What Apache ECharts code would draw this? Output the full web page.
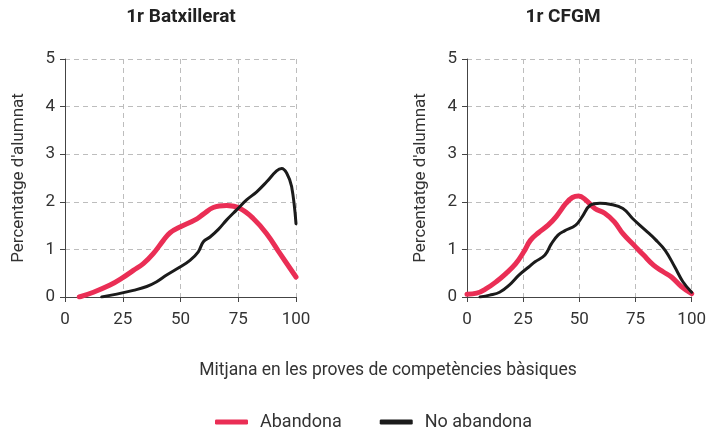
<!DOCTYPE html>
<html>
<head>
<meta charset="utf-8">
<script src="https://cdn.jsdelivr.net/npm/echarts@6/dist/echarts.min.js"></script>
<style>
  html, body { margin: 0; padding: 0; background: #fff; }
  #chart { width: 709px; height: 431px; }
</style>
</head>
<body>
<div id="chart"></div>
<script>
const panelTitles = ['1r Batxillerat', '1r CFGM']
const seriesNames = ['Abandona', 'No abandona']
const xTicks = [0, 25, 50, 75, 100]
const yTicks = [0, 1, 2, 3, 4, 5]

// 1r Batxillerat
const batAbandonaX = [6.2, 12.3, 19.5, 24.5, 29.6, 33.9, 38.2, 42.6, 45.5, 49.8, 56.3, 59.9, 64.2, 70, 75.8, 81.5, 87.3, 93.1, 100]
const batAbandonaY = [0, 0.1, 0.25, 0.39, 0.56, 0.7, 0.91, 1.19, 1.35, 1.47, 1.62, 1.74, 1.88, 1.92, 1.86, 1.65, 1.33, 0.91, 0.42]
const batNoAbandonaX = [15.9, 22.4, 29.6, 35.4, 39.7, 44, 49.8, 54.1, 57.7, 59.9, 62.8, 66.4, 70, 74.3, 78.6, 83, 87.3, 91.6, 93.8, 96, 98.1, 100]
const batNoAbandonaY = [0, 0.06, 0.14, 0.22, 0.32, 0.46, 0.63, 0.77, 0.95, 1.16, 1.26, 1.42, 1.62, 1.83, 2.04, 2.21, 2.42, 2.65, 2.7, 2.6, 2.32, 1.54]

// 1r CFGM
const cfgmAbandonaX = [0, 4.3, 8.7, 13, 17.3, 21.7, 25.3, 28.2, 31.8, 36.1, 39.7, 44.1, 46.9, 49.7, 52.6, 56.9, 61.3, 65.6, 69.4, 74.3, 78.6, 83, 87.3, 91, 95.4, 100]
const cfgmAbandonaY = [0.06, 0.08, 0.18, 0.32, 0.49, 0.7, 0.95, 1.19, 1.35, 1.51, 1.69, 1.97, 2.09, 2.12, 2.05, 1.86, 1.76, 1.58, 1.33, 1.09, 0.88, 0.67, 0.53, 0.42, 0.22, 0.07]
const cfgmNoAbandonaX = [5.8, 10.1, 14.5, 18.8, 23.1, 27.5, 30.3, 34.7, 37.6, 40.5, 43.4, 48.4, 51.3, 54.9, 59.2, 63.6, 69.4, 73.7, 79.5, 83.8, 88.2, 92.5, 96.1, 100]
const cfgmNoAbandonaY = [0, 0.04, 0.1, 0.25, 0.46, 0.63, 0.74, 0.88, 1.12, 1.3, 1.39, 1.51, 1.69, 1.93, 1.97, 1.95, 1.86, 1.65, 1.4, 1.21, 0.98, 0.63, 0.32, 0.1]

const RED = '#ea2e55'
const BLACK = '#1b1b1b'
const FONT = 'Roboto'

function pairs(xs, ys) {
  return xs.map((x, i) => [x, ys[i]])
}

function xAxisFor(idx) {
  return {
    type: 'value',
    gridIndex: idx,
    min: xTicks[0],
    max: xTicks[xTicks.length - 1],
    interval: 25,
    axisLine: { show: true, lineStyle: { color: '#444', width: 1 } },
    axisTick: { show: true, length: 5, lineStyle: { color: '#444' } },
    axisLabel: { fontFamily: FONT, fontSize: 17, color: '#333', margin: 14 },
    splitLine: { show: true, lineStyle: { color: '#bdbdbd', type: [5, 4], width: 1 } },
  }
}

function yAxisFor(idx) {
  return {
    type: 'value',
    gridIndex: idx,
    min: yTicks[0],
    max: yTicks[yTicks.length - 1],
    interval: 1,
    name: "Percentatge d'alumnat",
    nameLocation: 'middle',
    nameGap: 38,
    nameTextStyle: { fontFamily: FONT, fontSize: 17, color: '#333' },
    axisLine: { show: true, lineStyle: { color: '#444', width: 1 } },
    axisTick: { show: true, length: 5, lineStyle: { color: '#444' } },
    axisLabel: { fontFamily: FONT, fontSize: 17, color: '#333', margin: 10 },
    splitLine: { show: true, lineStyle: { color: '#bdbdbd', type: [5, 4], width: 1 } },
  }
}

function lineSeries(name, idx, data, color, width) {
  return {
    name: name,
    type: 'line',
    xAxisIndex: idx,
    yAxisIndex: idx,
    data: data,
    smooth: 0.4,
    symbol: 'none',
    lineStyle: { color: color, width: width, cap: 'round', join: 'round' },
    itemStyle: { color: color },
    z: name === seriesNames[0] ? 2 : 3,
  }
}

const chart = echarts.init(document.getElementById('chart'), null, { renderer: 'canvas' })

const option = {
  animation: false,
  backgroundColor: '#fff',
  title: [
    { text: panelTitles[0], left: 176, top: 3, textAlign: 'center',
      textStyle: { fontFamily: FONT, fontSize: 19, fontWeight: 'bold', color: '#222' } },
    { text: panelTitles[1], left: 558, top: 3, textAlign: 'center',
      textStyle: { fontFamily: FONT, fontSize: 19, fontWeight: 'bold', color: '#222' } },
    { text: 'Mitjana en les proves de competències bàsiques', left: 383, top: 357, textAlign: 'center',
      textStyle: { fontFamily: FONT, fontSize: 17.5, fontWeight: 'normal', color: '#333' } },
  ],
  legend: {
    left: 215,
    top: 413,
    padding: 0,
    itemWidth: 33,
    itemHeight: 5,
    itemGap: 38,
    icon: 'roundRect',
    textStyle: { fontFamily: FONT, fontSize: 18, color: '#333', padding: [0, 0, 0, 7] },
    data: [
      { name: seriesNames[0], itemStyle: { color: RED } },
      { name: seriesNames[1], itemStyle: { color: BLACK } },
    ],
  },
  grid: [
    { left: 65, right: 413, top: 59, bottom: 134 },
    { left: 467, right: 12, top: 59, bottom: 134 },
  ],
  xAxis: [xAxisFor(0), xAxisFor(1)],
  yAxis: [yAxisFor(0), yAxisFor(1)],
  series: [
    lineSeries(seriesNames[0], 0, pairs(batAbandonaX, batAbandonaY), RED, 5),
    lineSeries(seriesNames[1], 0, pairs(batNoAbandonaX, batNoAbandonaY), BLACK, 3),
    lineSeries(seriesNames[0], 1, pairs(cfgmAbandonaX, cfgmAbandonaY), RED, 5),
    lineSeries(seriesNames[1], 1, pairs(cfgmNoAbandonaX, cfgmNoAbandonaY), BLACK, 3),
  ],
}

chart.setOption(option)
</script>
</body>
</html>
